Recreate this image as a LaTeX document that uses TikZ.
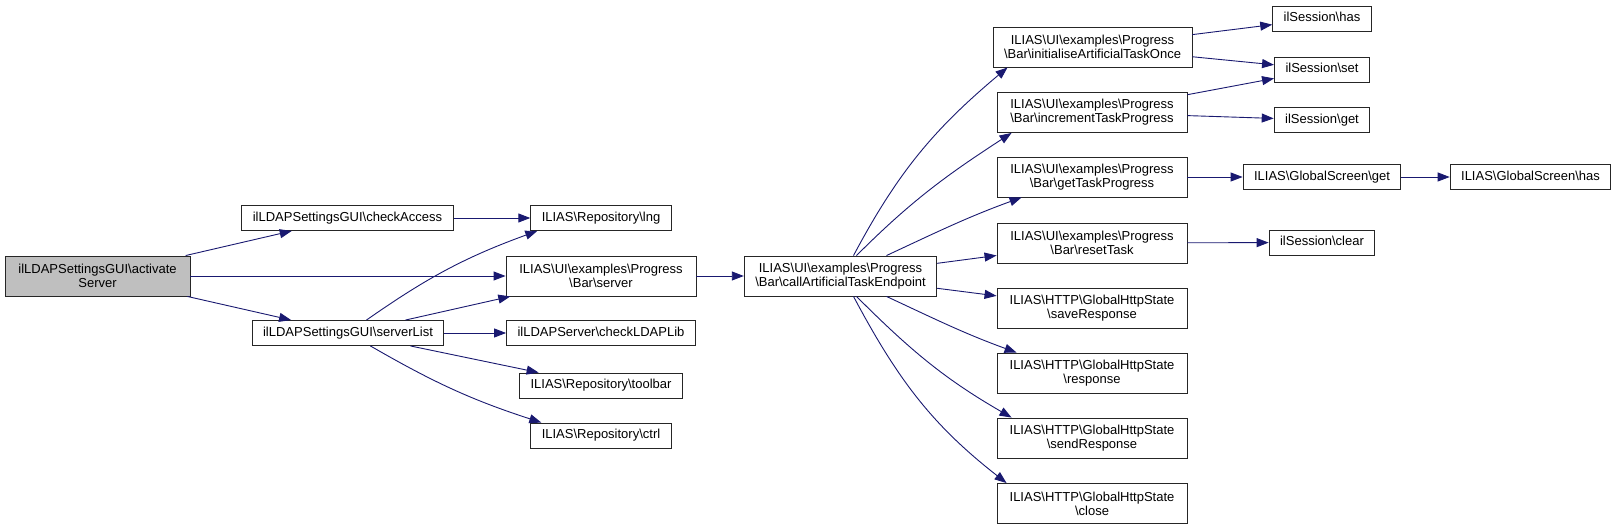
\documentclass[tikz,border=0pt]{standalone}
\usepackage{fontspec}
\setmainfont{Liberation Sans}
\usepackage{xcolor}
\usetikzlibrary{arrows.meta}

\definecolor{edgeblue}{HTML}{191970}
\definecolor{boxgrey}{HTML}{BFBFBF}
\newcommand{\bsl}{\textbackslash{}}

\begin{document}
\begin{tikzpicture}[
    x=1pt, y=1pt,
    >={Triangle[length=12pt,width=9pt]},
    fn/.style={rectangle, draw=black!85, line width=0.9pt,
      inner xsep=11pt, inner ysep=0pt, minimum height=25pt,
      font=\fontsize{13}{14}\selectfont, text height=9.6pt, text depth=2.8pt},
    fnn/.style={rectangle, draw=black!85, line width=0.9pt,
      inner xsep=11pt, inner ysep=0pt, minimum height=40pt, minimum width=190pt,
      align=center, font=\fontsize{13}{14}\selectfont},
    link/.style={->, draw=edgeblue, line width=0.9pt},
  ]

  \useasboundingbox (0,0) rectangle (1617,530);

  % Caller
  \node[fnn, fill=boxgrey, minimum width=185pt] (act) at (97.5,254)
    {ilLDAPSettingsGUI\bsl activate\\Server};

  % First level
  \node[fn] (chk)  at (347.5,312) {ilLDAPSettingsGUI\bsl checkAccess};
  \node[fn] (list) at (348,197)   {ilLDAPSettingsGUI\bsl serverList};

  % Second level
  \node[fn]  (lng)     at (601,312)   {ILIAS\bsl Repository\bsl lng};
  \node[fnn] (server)  at (601,254)   {ILIAS\bsl UI\bsl examples\bsl Progress\\\bsl Bar\bsl server};
  \node[fn]  (ldaplib) at (601,197)   {ilLDAPServer\bsl checkLDAPLib};
  \node[fn]  (toolbar) at (601,144.5) {ILIAS\bsl Repository\bsl toolbar};
  \node[fn]  (ctrl)    at (601,94.5)  {ILIAS\bsl Repository\bsl ctrl};

  % Endpoint
  \node[fnn] (endpoint) at (840.5,254)
    {ILIAS\bsl UI\bsl examples\bsl Progress\\\bsl Bar\bsl callArtificialTaskEndpoint};

  % Third level
  \node[fnn] (init)     at (1092.5,483) {ILIAS\bsl UI\bsl examples\bsl Progress\\\bsl Bar\bsl initialiseArtificialTaskOnce};
  \node[fnn] (incr)     at (1092,417.5) {ILIAS\bsl UI\bsl examples\bsl Progress\\\bsl Bar\bsl incrementTaskProgress};
  \node[fnn] (taskprog) at (1092,353)   {ILIAS\bsl UI\bsl examples\bsl Progress\\\bsl Bar\bsl getTaskProgress};
  \node[fnn] (reset)    at (1092,287)   {ILIAS\bsl UI\bsl examples\bsl Progress\\\bsl Bar\bsl resetTask};
  \node[fnn] (save)     at (1092,222)   {ILIAS\bsl HTTP\bsl GlobalHttpState\\\bsl saveResponse};
  \node[fnn] (resp)     at (1092,157)   {ILIAS\bsl HTTP\bsl GlobalHttpState\\\bsl response};
  \node[fnn] (send)     at (1092,92)    {ILIAS\bsl HTTP\bsl GlobalHttpState\\\bsl sendResponse};
  \node[fnn] (close)    at (1092,26.5)  {ILIAS\bsl HTTP\bsl GlobalHttpState\\\bsl close};

  % Fourth level
  \node[fn] (shas)   at (1322,511.5) {ilSession\bsl has};
  \node[fn] (sset)   at (1322,460.5) {ilSession\bsl set};
  \node[fn] (sget)   at (1322,410)   {ilSession\bsl get};
  \node[fn] (gsget)  at (1322,353)   {ILIAS\bsl GlobalScreen\bsl get};
  \node[fn] (gshas)  at (1530.5,353) {ILIAS\bsl GlobalScreen\bsl has};
  \node[fn] (sclear) at (1322,287.5) {ilSession\bsl clear};

  % Calls from the caller
  \draw[link] (act) -- (chk);
  \draw[link] (act) -- (server);
  \draw[link] (act) -- (list);

  % Calls from checkAccess and serverList
  \draw[link] (chk) -- (lng);
  \draw[link] (list) to[out=35,in=200] ([xshift=7pt]lng.south west);
  \draw[link] (list) -- (server);
  \draw[link] (list) -- (ldaplib);
  \draw[link] (list) -- (toolbar);
  \draw[link] (list) to[out=-30,in=162] ([xshift=11pt]ctrl.north west);

  % Server to endpoint
  \draw[link] (server) -- (endpoint);

  % Calls from the endpoint
  \draw[link] ([xshift=13pt]endpoint.north) to[out=62,in=220] ([xshift=15pt]init.south west);
  \draw[link] ([xshift=16pt]endpoint.north) to[out=45,in=213] ([xshift=15pt]incr.south west);
  \draw[link] ([xshift=46pt]endpoint.north) to[out=25,in=200] ([xshift=25pt]taskprog.south west);
  \draw[link] (endpoint) -- (reset);
  \draw[link] (endpoint) -- (save);
  \draw[link] ([xshift=46pt]endpoint.south) to[out=-25,in=160] ([xshift=20pt]resp.north west);
  \draw[link] ([xshift=16pt]endpoint.south) to[out=-45,in=150] ([xshift=15pt]send.north west);
  \draw[link] ([xshift=13pt]endpoint.south) to[out=-62,in=142] ([xshift=10pt]close.north west);

  % Session and screen calls
  \draw[link] (init) -- (shas);
  \draw[link] (init) -- (sset);
  \draw[link] (incr) -- (sset);
  \draw[link] (incr) -- (sget);
  \draw[link] (taskprog) -- (gsget);
  \draw[link] (gsget) -- (gshas);
  \draw[link] (reset) -- (sclear);

\end{tikzpicture}
\end{document}
